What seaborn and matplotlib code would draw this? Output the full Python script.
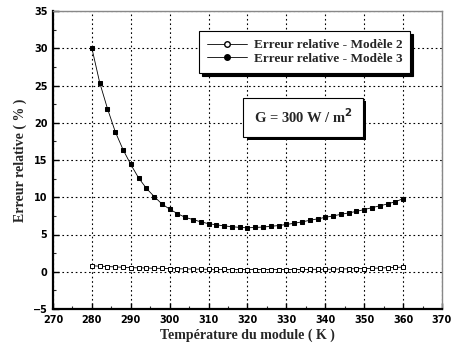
import numpy as np
import pandas as pd
import seaborn as sns
import matplotlib
matplotlib.use("Agg")
import matplotlib.pyplot as plt
from matplotlib.lines import Line2D
import matplotlib.patheffects as pe

temperature = list(range(280, 362, 2))
err_model3 = [30.0, 25.4, 21.9, 18.8, 16.4, 14.4, 12.6, 11.2, 10.1, 9.1,
              8.4, 7.8, 7.3, 7.0, 6.7, 6.45, 6.3, 6.15, 6.05, 5.95,
              5.9, 5.95, 6.0, 6.1, 6.2, 6.35, 6.5, 6.7, 6.9, 7.1,
              7.3, 7.5, 7.7, 7.9, 8.1, 8.35, 8.6, 8.85, 9.1, 9.4, 9.8]
err_model2 = [0.8, 0.75, 0.7, 0.65, 0.6, 0.55, 0.52, 0.5, 0.47, 0.45,
              0.42, 0.4, 0.38, 0.36, 0.35, 0.33, 0.32, 0.31, 0.3, 0.3,
              0.3, 0.3, 0.3, 0.3, 0.3, 0.3, 0.3, 0.31, 0.32, 0.33,
              0.34, 0.35, 0.37, 0.39, 0.41, 0.43, 0.46, 0.5, 0.54, 0.58, 0.62]
labels = ["Erreur relative - Modèle 2", "Erreur relative - Modèle 3"]

df = pd.DataFrame({"T": temperature, "m2": err_model2, "m3": err_model3})

sns.set_theme(style="white")
plt.rcParams["font.family"] = ["Liberation Serif", "DejaVu Serif"]

fig = plt.figure(figsize=(4.51, 3.49), dpi=100)
ax = fig.add_axes([53/451, 1 - 309/349, (442-53)/451, (309-11)/349])

sns.lineplot(data=df, x="T", y="m2", ax=ax, color="black", lw=0.6,
             marker="s", markersize=3.5, markerfacecolor="white",
             markeredgecolor="black", markeredgewidth=0.7)
sns.lineplot(data=df, x="T", y="m3", ax=ax, color="black", lw=0.6,
             marker="s", markersize=3.5, markerfacecolor="black",
             markeredgecolor="black")

ax.set_xlim(270, 370)
ax.set_ylim(-5, 35)
ax.set_xticks(np.arange(270, 371, 10))
ax.set_yticks(np.arange(-5, 36, 5))
ax.set_xticks(np.arange(270, 371, 5), minor=True)
ax.set_yticks(np.arange(-5, 36, 2.5), minor=True)
ax.tick_params(axis="both", which="major", direction="in", length=4, width=1,
               labelsize=7, colors="black", pad=4)
ax.tick_params(axis="both", which="minor", direction="in", length=2, width=0.8)
ax.tick_params(bottom=True, left=True, which="both")
for lab in ax.get_xticklabels() + ax.get_yticklabels():
    lab.set_family("DejaVu Sans")
    lab.set_fontweight("bold")

ax.grid(True, which="major", color="black", linestyle=(0, (1.5, 2.5)), lw=0.8)
for s in ["left", "bottom"]:
    ax.spines[s].set_color("black")
    ax.spines[s].set_linewidth(1.6)
for s in ["top", "right"]:
    ax.spines[s].set_color("#888888")
    ax.spines[s].set_linewidth(1.0)

ax.set_xlabel("Température du module ( K )", fontsize=10, fontweight="bold", labelpad=3)
ax.set_ylabel("Erreur relative ( % )", fontsize=10, fontweight="bold", labelpad=4)

handles = [
    Line2D([], [], color="black", lw=0.6, marker="o", markersize=4,
           markerfacecolor="white", markeredgecolor="black"),
    Line2D([], [], color="black", lw=0.6, marker="o", markersize=4,
           markerfacecolor="black", markeredgecolor="black"),
]
leg = ax.legend(handles, labels, loc="upper right", bbox_to_anchor=(0.918, 0.933),
                borderaxespad=0,
                prop={"family": "Liberation Serif", "weight": "bold", "size": 9.5},
                frameon=True, fancybox=False, edgecolor="black", framealpha=1,
                handlelength=3, borderpad=0.6, labelspacing=0.1, handletextpad=0.5,
                shadow={"color": "black", "alpha": 1, "ox": 2, "oy": -2.5})
leg.get_frame().set_linewidth(0.8)

t = ax.text(0.643, 0.644, "G = 300 W / m$^{\\mathbf{2}}$", transform=ax.transAxes,
            ha="center", va="center", fontsize=10.5, fontweight="bold",
            bbox=dict(boxstyle="square,pad=0.7", facecolor="white",
                      edgecolor="black", lw=0.8))
t.get_bbox_patch().set_path_effects([
    pe.SimplePatchShadow(offset=(2.5, -2.5), shadow_rgbFace="black", alpha=1),
    pe.Normal()])

fig.savefig("out.png", dpi=100)
